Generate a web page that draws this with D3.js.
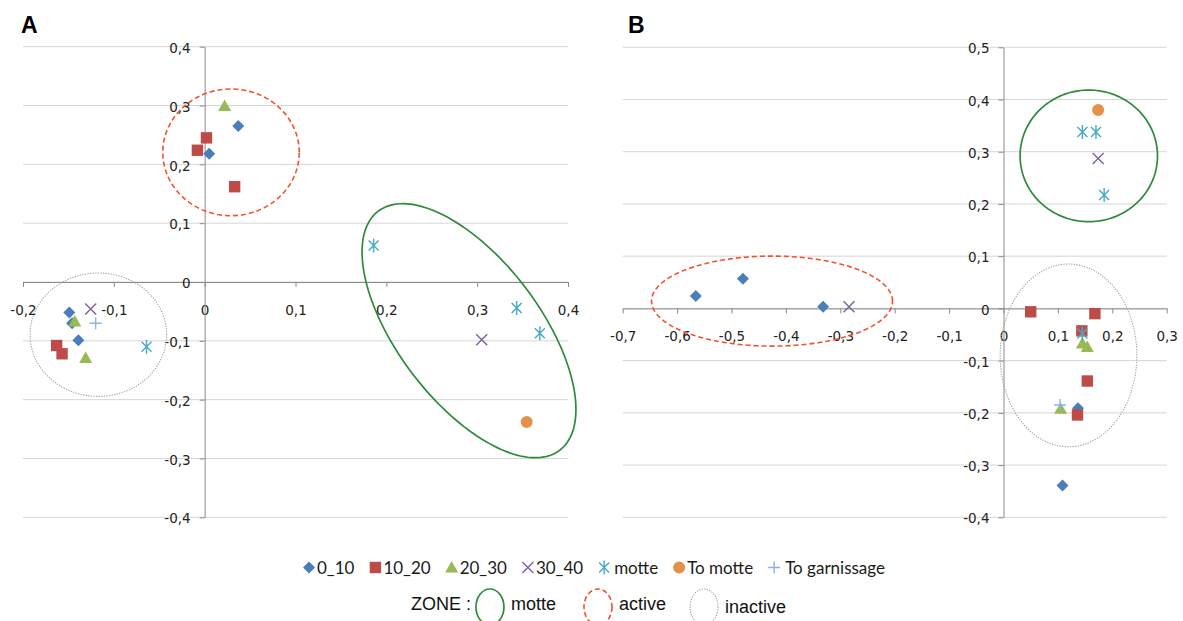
<!DOCTYPE html>
<html><head><meta charset="utf-8">
<script src="https://cdn.jsdelivr.net/npm/d3@7"></script>
<style>body{margin:0;background:#fff} svg{display:block}</style>
</head><body><svg id="c" width="1183" height="621"></svg>
<script>
// ---------- data ----------
const seriesNames = ["0_10","10_20","20_30","30_40","motte","To motte","To garnissage"];
const seriesColors = ["#4a7ebb","#be4b48","#98b954","#7d60a0","#46aac5","#e5914a","#8db3e2"];
const seriesShapes = ["diamond","square","triangle","x","star","circle","plus"];

// Panel A
const a_0_10  = [[0.037,0.265],[0.005,0.218],[-0.149,-0.052],[-0.146,-0.070],[-0.139,-0.099]];
const a_10_20 = [[0.002,0.245],[-0.008,0.224],[0.033,0.162],[-0.163,-0.108],[-0.157,-0.122]];
const a_20_30 = [[0.022,0.299],[-0.143,-0.067],[-0.131,-0.129]];
const a_30_40 = [[-0.1255,-0.046],[0.305,-0.098]];
const a_motte = [[-0.064,-0.110],[0.186,0.062],[0.3435,-0.044],[0.369,-0.087]];
const a_tomotte = [[0.3545,-0.238]];
const a_togarn = [[-0.120,-0.070]];

// Panel B
const b_0_10  = [[-0.5656,0.024],[-0.479,0.057],[-0.3316,0.003],[0.137,-0.191],[0.1085,-0.339]];
const b_10_20 = [[0.050,-0.0065],[0.168,-0.010],[0.144,-0.043],[0.154,-0.139],[0.136,-0.204]];
const b_20_30 = [[0.145,-0.067],[0.154,-0.074],[0.105,-0.192]];
const b_30_40 = [[-0.284,0.003],[0.174,0.287]];
const b_motte = [[0.145,0.338],[0.170,0.338],[0.185,0.217],[0.145,-0.048]];
const b_tomotte = [[0.174,0.380]];
const b_togarn = [[0.104,-0.185]];

// Axis ticks
const a_xticks = [-0.2,-0.1,0,0.1,0.2,0.3,0.4];
const a_yticks = [-0.4,-0.3,-0.2,-0.1,0,0.1,0.2,0.3,0.4];
const b_xticks = [-0.7,-0.6,-0.5,-0.4,-0.3,-0.2,-0.1,0,0.1,0.2,0.3];
const b_yticks = [-0.4,-0.3,-0.2,-0.1,0,0.1,0.2,0.3,0.4,0.5];

// Zones (ellipses in data units: centre, two conjugate semi-axis vectors)
const a_zones = [
  {kind:"active",   cx:0.029,  cy:0.2204,  ux:0.0751, uy:0, vx:0, vy:0.1077},
  {kind:"inactive", cx:-0.1171,cy:-0.0896, ux:0.0752, uy:0, vx:0, vy:0.1049},
  {kind:"motte",    cx:0.291,  cy:-0.0828, ux:0.0999, uy:-0.2032, vx:-0.0623, vy:-0.0730}
];
const b_zones = [
  {kind:"active",   cx:-0.4255,cy:0.014,  ux:0.2215, uy:0, vx:0, vy:0.0862},
  {kind:"motte",    cx:0.1568, cy:0.2921, ux:0.1263, uy:0, vx:0, vy:0.126},
  {kind:"inactive", cx:0.1195, cy:-0.090, ux:0.1256, uy:0, vx:0, vy:0.175}
];
const zoneNames = ["motte","active","inactive"];

// ---------- drawing ----------
const svg = d3.select("#c");
const loc = d3.formatLocale({decimal:",",thousands:" ",grouping:[3],currency:["",""],minus:"-"});
const fmt = loc.format(".1~f");

const zoneStyle = {
  motte:   {stroke:"#2e8b3c", width:1.7, dash:null},
  active:  {stroke:"#f0522c", width:1.6, dash:"5,3"},
  inactive:{stroke:"#a3a3a3", width:1.1, dash:"1.3,1.3"}
};

function markerPath(shape){
  switch(shape){
    case "diamond": return "M0,-6L6,0L0,6L-6,0Z";
    case "square": return "M-5.7,-5.7H5.7V5.7H-5.7Z";
    case "triangle": return "M0,-6.5L6.5,5L-6.5,5Z";
    case "circle": return d3.symbol(d3.symbolCircle, 113)();
    case "x": return "M-5.5,-5.5L5.5,5.5M5.5,-5.5L-5.5,5.5";
    case "star": return "M-5,-5L5,5M5,-5L-5,5M0,-7V7";
    case "plus": return "M-6,0H6M0,-6V6";
  }
}
function drawMarker(sel, i){
  const sh = seriesShapes[i];
  const stroked = (sh==="x"||sh==="star"||sh==="plus");
  sel.attr("d", markerPath(sh))
     .attr("fill", stroked ? "none" : seriesColors[i])
     .attr("stroke", stroked ? seriesColors[i] : "none")
     .attr("stroke-width", stroked ? 1.4 : 0);
}

function panel(opts){
  const {xDomain, yDomain, xRange, yRange, xticks, yticks, series, zones, letter, letterX} = opts;
  const xs = d3.scaleLinear().domain(xDomain).range(xRange);
  const ys = d3.scaleLinear().domain(yDomain).range(yRange);
  const g = svg.append("g");

  // gridlines
  g.append("g").selectAll("line").data(yticks).join("line")
    .attr("x1", xs(xDomain[0])).attr("x2", xs(xDomain[1]))
    .attr("y1", d=>ys(d)).attr("y2", d=>ys(d))
    .attr("stroke","#d6d6d6").attr("stroke-width",1);

  // x axis at y=0
  const gx = g.append("g").attr("transform",`translate(0,${ys(0)})`)
    .call(d3.axisBottom(xs).tickValues(xticks).tickFormat(fmt).tickSize(5).tickSizeOuter(0).tickPadding(18));
  // y axis at x=0
  const gy = g.append("g").attr("transform",`translate(${xs(0)},0)`)
    .call(d3.axisLeft(ys).tickValues(yticks).tickFormat(fmt).tickSize(5).tickSizeOuter(0).tickPadding(9));
  [gx,gy].forEach(a=>{
    a.selectAll("path,line").attr("stroke","#8a8a8a");
    a.selectAll("text").attr("font-family","'DejaVu Sans'").attr("font-size",13.5).attr("fill","#222");
  });
  gy.selectAll("text").attr("dy","0.42em");

  // points
  series.forEach((pts,i)=>{
    g.append("g").selectAll("path").data(pts).join("path")
      .attr("transform", d=>`translate(${xs(d[0])},${ys(d[1])})`)
      .call(s=>drawMarker(s,i));
  });

  // zones
  const N = 160;
  const line = d3.line().curve(d3.curveLinearClosed);
  zones.forEach(z=>{
    const pts = d3.range(N).map(k=>{
      const t = 2*Math.PI*k/N;
      return [xs(z.cx + z.ux*Math.cos(t) + z.vx*Math.sin(t)),
              ys(z.cy + z.uy*Math.cos(t) + z.vy*Math.sin(t))];
    });
    const st = zoneStyle[z.kind];
    g.append("path").attr("d", line(pts)).attr("fill","none")
      .attr("stroke", st.stroke).attr("stroke-width", st.width)
      .attr("stroke-dasharray", st.dash);
  });

  // panel letter
  svg.append("text").attr("x", letterX).attr("y", 33).text(letter)
    .attr("font-family","'Liberation Sans', Arial, sans-serif").attr("font-weight","bold")
    .attr("font-size",23).attr("fill","#000");
}

panel({xDomain:[-0.2,0.4], yDomain:[-0.4,0.4], xRange:[23,568], yRange:[517.3,46.7],
  xticks:a_xticks, yticks:a_yticks,
  series:[a_0_10,a_10_20,a_20_30,a_30_40,a_motte,a_tomotte,a_togarn],
  zones:a_zones, letter:"A", letterX:21});

panel({xDomain:[-0.7,0.3], yDomain:[-0.4,0.5], xRange:[622.7,1166.7], yRange:[517.3,47.3],
  xticks:b_xticks, yticks:b_yticks,
  series:[b_0_10,b_10_20,b_20_30,b_30_40,b_motte,b_tomotte,b_togarn],
  zones:b_zones, letter:"B", letterX:628});

// ---------- legend row 1 ----------
const leg1 = svg.append("g");
let cx = 0;
const gap1 = 21;
seriesNames.forEach((name,i)=>{
  const it = leg1.append("g");
  it.append("path").attr("transform",`translate(${cx},0)`).call(s=>drawMarker(s,i));
  const off = (i===6?11:(i===4?10:8));
  const t = it.append("text").attr("x", cx+off).attr("y",6).text(name)
    .attr("font-family","Lato, 'Open Sans', sans-serif").attr("font-size",17).attr("fill","#1a1a1a");
  const w = t.node().getComputedTextLength();
  cx = cx + off + w + gap1;
});
const row1W = cx - gap1 + 6;
leg1.attr("transform",`translate(${(305+883)/2 - row1W/2 + 6},567.5)`);

// ---------- legend row 2 ----------
const leg2 = svg.append("g");
const zf = "'Liberation Sans', Arial, sans-serif";
const zt = leg2.append("text").attr("x",0).attr("y",6.5).text("ZONE :")
  .attr("font-family",zf).attr("font-size",18).attr("fill","#111");
let px = zt.node().getComputedTextLength() + 5;
const gaps = [28, 24, 0];
zoneNames.forEach((name,i)=>{
  const st = zoneStyle[name];
  leg2.append("ellipse").attr("cx", px+14).attr("cy", 4).attr("rx",14).attr("ry",18)
    .attr("fill","none").attr("stroke",st.stroke).attr("stroke-width",st.width)
    .attr("stroke-dasharray", st.dash);
  px += 28 + 7;
  const t = leg2.append("text").attr("x",px).attr("y", name==="inactive"?9.5:6.5).text(name)
    .attr("font-family",zf).attr("font-size",18).attr("fill","#111");
  px += t.node().getComputedTextLength() + gaps[i];
});
leg2.attr("transform",`translate(${598.5 - px/2},603)`);
</script></body></html>
